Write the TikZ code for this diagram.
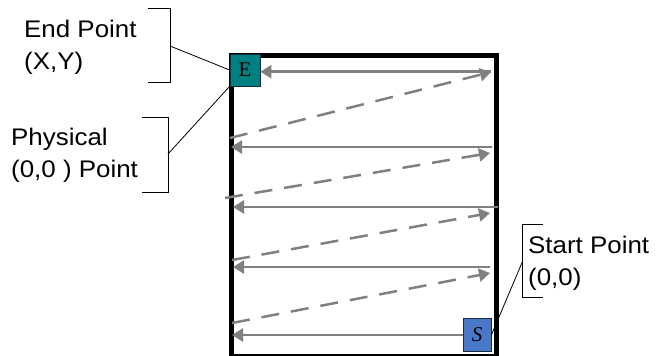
\documentclass[tikz,border=0pt]{standalone}
\usepackage{fontspec}
\setmainfont{Liberation Serif}
\newfontfamily\labfont[FakeStretch=1.08]{Liberation Sans}
\usetikzlibrary{arrows.meta}
\definecolor{arrowgray}{HTML}{808080}
\definecolor{eteal}{HTML}{008080}
\definecolor{sblue}{HTML}{4A78C8}
\definecolor{boxedge}{HTML}{1A2A3A}
\begin{document}
\begin{tikzpicture}[x=1pt,y=-1pt,
  frame/.style={draw=black, line width=5pt},
  scan/.style={draw=arrowgray, line width=2.5pt, -{Triangle[length=11pt,width=13pt]}},
  retrace/.style={scan, dash pattern=on 18pt off 12pt},
  marker/.style={draw=boxedge, line width=0.8pt, inner sep=0pt, font=\fontsize{21}{23}\selectfont},
  label/.style={anchor=base west, inner sep=0pt, align=left, font=\labfont\fontsize{24}{32}\selectfont},
  bracket/.style={draw=black, line width=0.8pt}
]
\useasboundingbox (0,0) rectangle (656,356);
% frame
\node[frame, inner sep=0pt, minimum width=265pt, minimum height=301pt, anchor=north west] (F) at (229,53) {};
% coordinates
\coordinate (s1a) at (491,71.7);
\coordinate (d1a) at (230,138);  \coordinate (d1b) at (491,72);
\coordinate (s2a) at (492,147);  \coordinate (s2b) at (231,147);
\coordinate (d2a) at (225,198);  \coordinate (d2b) at (490,153);
\coordinate (s3a) at (498,207);  \coordinate (s3b) at (233,207);
\coordinate (d3a) at (232,260);  \coordinate (d3b) at (490,213);
\coordinate (s4a) at (490,267);  \coordinate (s4b) at (233,267);
\coordinate (d4a) at (232,323);  \coordinate (d4b) at (490,273);
\coordinate (s5b) at (232,335);
% markers
\node[marker, fill=eteal, minimum width=30pt, minimum height=32pt] (E) at (245,70) {E};
\node[marker, fill=sblue, minimum width=28pt, minimum height=33.5pt] (S) at (477,335) {\textit{S}};
% scan lines
\draw[scan] (s1a) -- (E.east |- s1a);
\draw[retrace] (d1a) -- (d1b);
\draw[scan] (s2a) -- (s2b);
\draw[retrace] (d2a) -- (d2b);
\draw[scan] (s3a) -- (s3b);
\draw[retrace] (d3a) -- (d3b);
\draw[scan] (s4a) -- (s4b);
\draw[retrace] (d4a) -- (d4b);
\draw[scan] (S.west) -- (s5b);
% labels (anchor = baseline of last line)
\node[label] (endlab) at (24,69.3) {End Point\\(X,Y)};
\node[label] (physlab) at (11,177) {Physical\\(0,0 ) Point};
\node[label] (startlab) at (528,285) {Start Point\\(0,0)};
% brackets
\coordinate (eb) at (170,46);
\draw[bracket] (148,8.3) -- (170,8.3) -- (170,82) -- (148,82);
\draw[bracket] (eb) -- (E.west);
\coordinate (pb) at (168,154);
\draw[bracket] (142,117) -- (168,117) -- (168,192) -- (142,192);
\draw[bracket] (pb) -- (E.south west);
\coordinate (sb) at (522.7,261);
\draw[bracket] (543,224) -- (522.7,224) -- (522.7,297.7) -- (543,297.7);
\draw[bracket] (sb) -- (S.east);
\end{tikzpicture}
\end{document}
